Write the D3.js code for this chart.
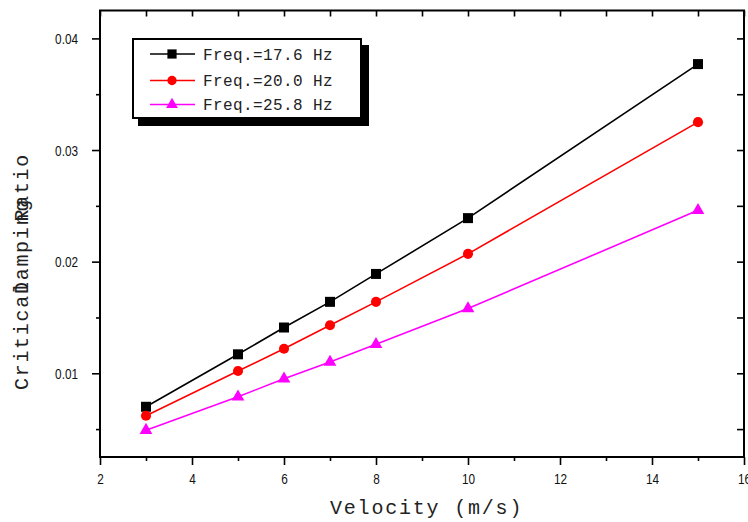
<!DOCTYPE html>
<html>
<head>
<meta charset="utf-8">
<script src="https://cdn.jsdelivr.net/npm/d3@7"></script>
<style>
  html, body { margin: 0; padding: 0; background: #fff; }
  svg { display: block; }
  .tick text { font-family: "Liberation Sans Narrow", "Liberation Sans", Arial, sans-serif; font-size: 15.5px; fill: #111; }
  .mono { font-family: "Liberation Mono", "Courier New", monospace; fill: #222; }
</style>
</head>
<body>
<svg id="chart" width="748" height="522"></svg>
<script>
// Velocity (m/s) sampled for each excitation frequency
const velocity = [3, 5, 6, 7, 8, 10, 15];

// Critical damping ratio for each frequency
const damp176 = [0.0070, 0.0117, 0.0141, 0.0164, 0.0189, 0.0239, 0.0377];
const damp200 = [0.0062, 0.0102, 0.0122, 0.0143, 0.0164, 0.0207, 0.0325];
const damp258 = [0.0049, 0.0079, 0.0095, 0.0110, 0.0126, 0.0158, 0.0246];

const seriesLabels = ["Freq.=17.6 Hz", "Freq.=20.0 Hz", "Freq.=25.8 Hz"];

// Axis ticks
const xMajorTicks = [2, 4, 6, 8, 10, 12, 14, 16];
const xMinorTicks = [3, 5, 7, 9, 11, 13, 15];
const yMajorTicks = [0.01, 0.02, 0.03, 0.04];
const yMinorTicks = [0.005, 0.015, 0.025, 0.035];

const xTitle = "Velocity (m/s)";
const yTitleParts = ["Critical", "Damping", "Ratio"];

const series = [
  { name: seriesLabels[0], values: damp176, color: "#000000", symbol: d3.symbolSquare, size: 100 },
  { name: seriesLabels[1], values: damp200, color: "#ff0000", symbol: d3.symbolCircle, size: 80 },
  { name: seriesLabels[2], values: damp258, color: "#ff00ff", symbol: d3.symbolTriangle, size: 70 }
];

const svg = d3.select("#chart");
const plot = { left: 100, right: 744, top: 10.5, bottom: 457 };

const x = d3.scaleLinear().domain([2, 16]).range([plot.left, plot.right]);
const y = d3.scaleLinear().domain([0.0025, 0.0425]).range([plot.bottom, plot.top]);

// Frame lines
svg.append("rect")
  .attr("x", plot.left).attr("y", plot.top)
  .attr("width", plot.right - plot.left).attr("height", plot.bottom - plot.top)
  .attr("fill", "none").attr("stroke", "#000").attr("stroke-width", 2);

// Condensed tick labels
function styleAxis(g) {
  g.select(".domain").remove();
  g.selectAll(".tick line").attr("stroke", "#000").attr("stroke-width", 1.6);
  g.selectAll(".tick text").each(function () {
    const w = this.getComputedTextLength();
    if (w > 0) {
      d3.select(this).attr("textLength", w * 0.76).attr("lengthAdjust", "spacingAndGlyphs");
    }
  });
}

// Bottom axis: labelled majors, short minors
svg.append("g").attr("transform", `translate(0,${plot.bottom})`)
  .call(d3.axisBottom(x).tickValues(xMajorTicks).tickSize(8).tickPadding(8).tickFormat(d3.format("d")))
  .call(styleAxis);
svg.append("g").attr("transform", `translate(0,${plot.bottom})`)
  .call(d3.axisBottom(x).tickValues(xMinorTicks).tickSize(4).tickFormat(""))
  .call(styleAxis);

// Left axis
svg.append("g").attr("transform", `translate(${plot.left},0)`)
  .call(d3.axisLeft(y).tickValues(yMajorTicks).tickSize(8).tickPadding(14).tickFormat(d3.format(".2f")))
  .call(styleAxis);
svg.append("g").attr("transform", `translate(${plot.left},0)`)
  .call(d3.axisLeft(y).tickValues(yMinorTicks).tickSize(4).tickFormat(""))
  .call(styleAxis);

// Top and right axes: inward ticks only
svg.append("g").attr("transform", `translate(0,${plot.top})`)
  .call(d3.axisTop(x).tickValues(xMajorTicks.concat(xMinorTicks)).tickSize(-6).tickFormat(""))
  .call(styleAxis);
svg.append("g").attr("transform", `translate(${plot.right},0)`)
  .call(d3.axisRight(y).tickValues(yMajorTicks.concat(yMinorTicks)).tickSize(-7).tickFormat(""))
  .call(styleAxis);

// Series lines and markers
const line = d3.line().x((d, i) => x(velocity[i])).y(d => y(d));
series.forEach(s => {
  svg.append("path")
    .attr("d", line(s.values))
    .attr("fill", "none")
    .attr("stroke", s.color)
    .attr("stroke-width", 1.6);
  svg.append("g").selectAll("path")
    .data(s.values)
    .join("path")
    .attr("transform", (d, i) => `translate(${x(velocity[i])},${y(d)})`)
    .attr("d", d3.symbol().type(s.symbol).size(s.size))
    .attr("fill", s.color);
});

// Legend with drop shadow
const legend = svg.append("g");
legend.append("rect")
  .attr("x", 138).attr("y", 45).attr("width", 231).attr("height", 81)
  .attr("fill", "#000");
legend.append("rect")
  .attr("x", 133).attr("y", 39).attr("width", 228).attr("height", 79)
  .attr("fill", "#fff").attr("stroke", "#000").attr("stroke-width", 2);

const rowY = [54, 80.5, 104.5];
series.forEach((s, i) => {
  const row = legend.append("g").attr("transform", `translate(0,${rowY[i]})`);
  row.append("line")
    .attr("x1", 150).attr("x2", 195).attr("y1", 0).attr("y2", 0)
    .attr("stroke", s.color).attr("stroke-width", 1.6);
  row.append("path")
    .attr("transform", "translate(172,0)")
    .attr("d", d3.symbol().type(s.symbol).size(s.size * 0.85))
    .attr("fill", s.color);
  row.append("text")
    .attr("class", "mono")
    .attr("x", 203).attr("y", 5.5)
    .attr("font-size", 16)
    .attr("letter-spacing", 0.4)
    .text(s.name);
});

// Axis titles
svg.append("text")
  .attr("class", "mono")
  .attr("x", 330).attr("y", 513.5)
  .attr("font-size", 20)
  .attr("letter-spacing", 1.8)
  .text(xTitle);

const yTitle = svg.append("text")
  .attr("class", "mono")
  .attr("transform", "translate(28,0) rotate(-90)")
  .attr("font-size", 20)
  .attr("letter-spacing", 1.7);
const yTitleStarts = [390, 294, 221.5];
yTitleParts.forEach((t, i) => {
  yTitle.append("tspan").attr("x", -yTitleStarts[i]).attr("y", 0).text(t);
});
</script>
</body>
</html>
